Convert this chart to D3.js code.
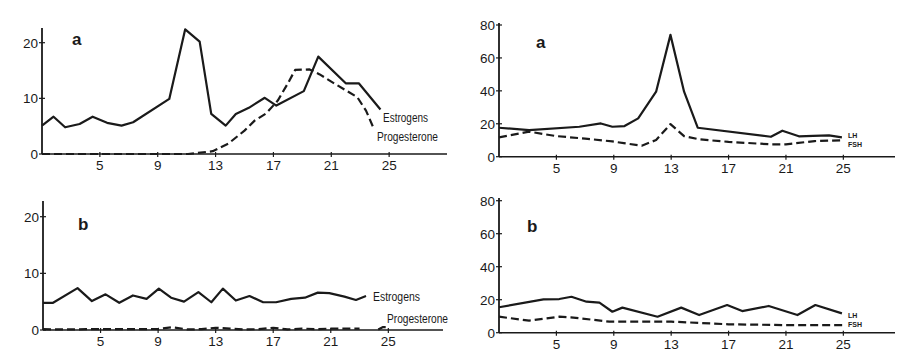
<!DOCTYPE html>
<html>
<head>
<meta charset="utf-8">
<script src="https://cdn.jsdelivr.net/npm/d3@7/dist/d3.min.js"></script>
<style>
  html, body { margin: 0; padding: 0; background: #fff; }
  svg { display: block; }
  text { font-family: "Liberation Sans", Arial, sans-serif; fill: #1a1a1a; }
</style>
</head>
<body>
<div id="chart"></div>
<script>
// ---- data (cycle day / value) ----
const xTicks = [5, 9, 13, 17, 21, 25];
const steroidTicks = [0, 10, 20];
const gonadTicks = [0, 20, 40, 60, 80];

// panel a, left: estrogens / progesterone
const estADays = [1, 1.8, 2.6, 3.6, 4.5, 5.5, 6.5, 7.3, 9.8, 10.9, 11.9, 12.7, 13.7, 14.4, 15.3, 16.4, 17.2, 19.1, 20.1, 22, 22.9, 24.4];
const estAVals = [5.1, 6.7, 4.8, 5.4, 6.7, 5.6, 5.1, 5.7, 9.9, 22.4, 20.2, 7.2, 5.1, 7.2, 8.3, 10.1, 8.7, 11.3, 17.5, 12.7, 12.7, 8.0];
const progADays = [1, 11.1, 12.8, 13.9, 15, 15.7, 16.5, 17.3, 18, 18.5, 19.5, 20.2, 21, 22.8, 23.4, 23.9];
const progAVals = [0, 0, 0.5, 1.9, 4.2, 6.0, 7.3, 9.6, 12.7, 15.1, 15.2, 14.3, 13.0, 10.2, 7.8, 4.8];

// panel a, right: LH / FSH
const lhADays = [1, 3.1, 6.6, 8.1, 8.9, 9.75, 10.7, 11.95, 12.95, 13.9, 14.85, 19.95, 20.75, 21.9, 22.9, 24, 24.9];
const lhAVals = [17.6, 16.2, 18.2, 20.2, 18.2, 18.6, 23.3, 39.5, 74, 39.5, 17.6, 12.1, 15.8, 12.4, 12.6, 13, 11.7];
const fshADays = [1, 3.1, 5, 7, 8.9, 9.7, 10.95, 11.95, 12.95, 13.9, 15, 17, 20, 21, 23, 25];
const fshAVals = [11.7, 15.2, 12.5, 11, 9.3, 8.2, 6.7, 10.1, 19.8, 12.5, 10.5, 9, 7.5, 7.5, 9.5, 10];

// panel b, left
const estBDays = [1, 1.7, 3.4, 4.4, 5.35, 6.3, 7.25, 8.2, 9.05, 9.9, 10.8, 11.8, 12.7, 13.5, 14.4, 15.35, 16.3, 17.2, 18.25, 19.2, 20.1, 20.9, 21.95, 22.75, 23.45];
const estBVals = [4.8, 4.8, 7.4, 5.1, 6.3, 4.8, 6.1, 5.5, 7.3, 5.7, 5.0, 6.7, 4.9, 7.3, 5.2, 6.0, 4.9, 4.9, 5.5, 5.7, 6.6, 6.5, 5.9, 5.3, 6.0];
const progBDays = [1, 2, 3, 4, 5, 6, 7, 8, 9, 10, 11, 12, 13, 14, 15, 16, 17, 18, 19, 20, 21, 22, 23, 23.5, 24.3, 24.6, 25];
const progBVals = [0.15, 0.1, 0.1, 0.15, 0.15, 0.15, 0.15, 0.15, 0.2, 0.5, 0.1, 0.15, 0.4, 0.25, 0.1, 0.15, 0.4, 0.1, 0.25, 0.15, 0.25, 0.25, 0.25, null, 0.1, 0.5, 0.5];

// panel b, right
const lhBDays = [1, 4.1, 5.2, 6.05, 7.1, 8, 8.9, 9.6, 12.05, 13.7, 14.95, 16.9, 17.95, 19.8, 21.8, 23.05, 24.9];
const lhBVals = [15.4, 20.2, 20.4, 21.8, 18.8, 18.2, 12.7, 15.2, 9.7, 15.2, 10.7, 16.8, 13.1, 16.2, 10.7, 16.8, 11.7];
const fshBDays = [1, 3.1, 5.2, 6, 8.7, 13, 17, 21, 25];
const fshBVals = [9.7, 7.3, 9.7, 9.3, 6.7, 6.7, 5.1, 4.6, 4.6];

const zip = (days, vals) => days.map((d, i) => ({ day: d, v: vals[i] }));

const width = 903, height = 352;
const svg = d3.select("#chart").append("svg")
  .attr("width", width)
  .attr("height", height);

// one panel = axes + lines + labels
function drawPanel(p) {
  const x = d3.scaleLinear().domain(p.xDomain).range([p.left, p.right]);
  const y = d3.scaleLinear().domain([0, p.yMax]).range([p.zeroY, p.topY]);
  const g = svg.append("g");

  // axes
  g.append("line")
    .attr("x1", p.left).attr("x2", p.left)
    .attr("y1", p.axisTop).attr("y2", p.zeroY)
    .attr("stroke", "#1a1a1a").attr("stroke-width", 1.8);
  g.append("line")
    .attr("x1", p.left).attr("x2", p.right)
    .attr("y1", p.zeroY).attr("y2", p.zeroY)
    .attr("stroke", "#1a1a1a").attr("stroke-width", 1.5);

  g.selectAll(".yt").data(p.yTicks).join("line")
    .attr("x1", p.left - 3).attr("x2", p.left + 3)
    .attr("y1", d => y(d)).attr("y2", d => y(d))
    .attr("stroke", "#1a1a1a").attr("stroke-width", 1.2);
  g.selectAll(".yl").data(p.yTicks).join("text")
    .attr("x", p.left - 4)
    .attr("y", d => y(d) + 5)
    .attr("text-anchor", "end")
    .attr("font-size", 13.5)
    .text(d => d);

  g.selectAll(".xt").data(xTicks).join("line")
    .attr("x1", d => x(d)).attr("x2", d => x(d))
    .attr("y1", p.zeroY - 2).attr("y2", p.zeroY + 3)
    .attr("stroke", "#1a1a1a").attr("stroke-width", 1.2);
  g.selectAll(".xl").data(xTicks).join("text")
    .attr("x", d => x(d))
    .attr("y", p.zeroY + 16)
    .attr("text-anchor", "middle")
    .attr("font-size", 13.5)
    .text(d => d);

  // panel letter
  g.append("text")
    .attr("x", p.letterX).attr("y", p.letterY)
    .attr("font-family", "'Liberation Serif', 'DejaVu Serif', serif")
    .attr("font-weight", "bold")
    .attr("font-size", 17)
    .text(p.letter);

  const line = d3.line()
    .defined(d => d.v != null)
    .x(d => x(d.day))
    .y(d => y(d.v));

  p.series.forEach(s => {
    g.append("path")
      .datum(s.data)
      .attr("d", line)
      .attr("fill", "none")
      .attr("stroke", "#1a1a1a")
      .attr("stroke-width", 2.2)
      .attr("stroke-linejoin", "round")
      .attr("stroke-dasharray", s.dashed ? "8,4" : null);
    const t = g.append("text")
      .attr("x", s.lx).attr("y", s.ly)
      .attr("font-size", s.fs)
      .text(s.name);
    if (s.tl) t.attr("textLength", s.tl).attr("lengthAdjust", "spacingAndGlyphs");
    if (s.bold) t.attr("font-weight", "bold");
  });
}

drawPanel({
  left: 42, right: 447, xDomain: [1, 29], zeroY: 154, topY: 42.7, yMax: 20, axisTop: 28,
  yTicks: steroidTicks, letter: "a", letterX: 72, letterY: 45,
  series: [
    { name: "Estrogens", data: zip(estADays, estAVals), lx: 383, ly: 122, fs: 12, tl: 45 },
    { name: "Progesterone", data: zip(progADays, progAVals), dashed: true, lx: 377, ly: 141, fs: 12, tl: 61 }
  ]
});

drawPanel({
  left: 499, right: 895, xDomain: [1, 28.6], zeroY: 156.7, topY: 25, yMax: 80, axisTop: 23,
  yTicks: gonadTicks, letter: "a", letterX: 536, letterY: 48,
  series: [
    { name: "LH", data: zip(lhADays, lhAVals), lx: 848, ly: 137.5, fs: 7, bold: true },
    { name: "FSH", data: zip(fshADays, fshAVals), dashed: true, lx: 848, ly: 147, fs: 7, bold: true }
  ]
});

drawPanel({
  left: 43, right: 443, xDomain: [1, 28.8], zeroY: 330, topY: 216.7, yMax: 20, axisTop: 201,
  yTicks: steroidTicks, letter: "b", letterX: 78, letterY: 230,
  series: [
    { name: "Estrogens", data: zip(estBDays, estBVals), lx: 373, ly: 301, fs: 12, tl: 47 },
    { name: "Progesterone", data: zip(progBDays, progBVals), dashed: true, lx: 387, ly: 323, fs: 12, tl: 61 }
  ]
});

drawPanel({
  left: 499, right: 895, xDomain: [1, 28.6], zeroY: 332.7, topY: 200.7, yMax: 80, axisTop: 198,
  yTicks: gonadTicks, letter: "b", letterX: 527, letterY: 232,
  series: [
    { name: "LH", data: zip(lhBDays, lhBVals), lx: 848, ly: 317.5, fs: 7, bold: true },
    { name: "FSH", data: zip(fshBDays, fshBVals), dashed: true, lx: 848, ly: 327, fs: 7, bold: true }
  ]
});
</script>
</body>
</html>
